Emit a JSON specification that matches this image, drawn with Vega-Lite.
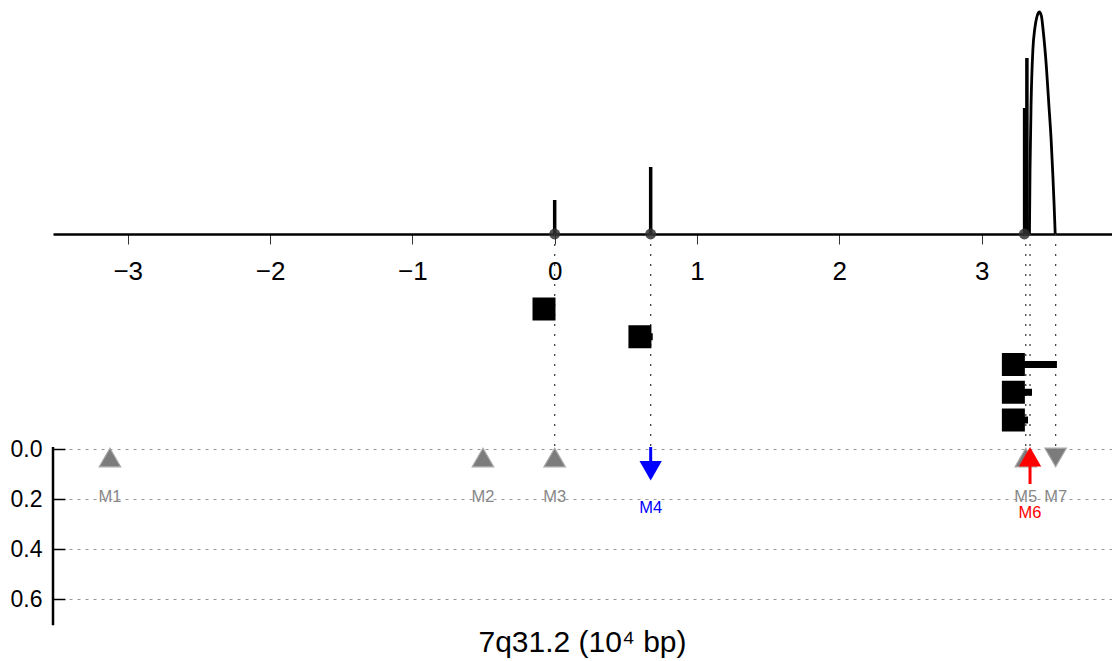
{
  "$schema": "https://vega.github.io/schema/vega-lite/v6.json",
  "width": 1059,
  "height": 625,
  "autosize": {"type": "none"},
  "padding": {"left": 53, "top": 0, "right": 0, "bottom": 36},
  "background": "white",
  "config": {"view": {"stroke": null}, "font": "Liberation Sans"},
  "title": {"text": "7q31.2 (10⁴ bp)", "orient": "bottom", "anchor": "middle", "fontSize": 30, "fontWeight": "normal", "font": "Liberation Sans", "color": "black", "offset": 1},
  "datasets": {
    "markers": [
      {"id": "M1", "pos": -3.125, "group": "neutral", "dir": "up"},
      {"id": "M2", "pos": -0.504, "group": "neutral", "dir": "up"},
      {"id": "M3", "pos": 0.0, "group": "neutral", "dir": "up"},
      {"id": "M4", "pos": 0.6745, "group": "decrease", "dir": "down"},
      {"id": "M5", "pos": 3.31, "group": "neutral", "dir": "up"},
      {"id": "M6", "pos": 3.34, "group": "increase", "dir": "up"},
      {"id": "M7", "pos": 3.52, "group": "neutral", "dir": "down"}
    ],
    "links": [{"pos": 0.0}, {"pos": 0.6745}, {"pos": 3.31}, {"pos": 3.34}, {"pos": 3.52}],
    "lollipops": [
      {"pos": 0.0, "score": 0.34},
      {"pos": 0.6745, "score": 0.67},
      {"pos": 3.302, "score": 1.26},
      {"pos": 3.318, "score": 1.76}
    ],
    "dots": [{"pos": 0.0}, {"pos": 0.6745}, {"pos": 3.30}],
    "arc": [
      {"pos": 3.336, "score": 0},
      {"pos": 3.340, "score": 0.64},
      {"pos": 3.348, "score": 1.34},
      {"pos": 3.360, "score": 1.84},
      {"pos": 3.374, "score": 2.06},
      {"pos": 3.388, "score": 2.17},
      {"pos": 3.405, "score": 2.22},
      {"pos": 3.420, "score": 2.18},
      {"pos": 3.432, "score": 2.04},
      {"pos": 3.455, "score": 1.67},
      {"pos": 3.472, "score": 1.30},
      {"pos": 3.488, "score": 0.95},
      {"pos": 3.500, "score": 0.60},
      {"pos": 3.509, "score": 0.30},
      {"pos": 3.517, "score": 0}
    ],
    "blocks": [
      {"row": 1, "pos": -0.075, "end": 0.0},
      {"row": 2, "pos": 0.599, "end": 0.689},
      {"row": 3, "pos": 3.223, "end": 3.529},
      {"row": 4, "pos": 3.223, "end": 3.354},
      {"row": 5, "pos": 3.223, "end": 3.326}
    ]
  },
  "encoding": {
    "x": {
      "field": "pos", "type": "quantitative",
      "scale": {"domain": [-3.525, 3.916], "nice": false, "zero": false},
      "axis": {"values": [-3, -2, -1, 0, 1, 2, 3], "offset": -391, "title": null, "grid": false,
               "domainColor": "black", "domainWidth": 2.5, "tickColor": "#333", "tickSize": 10, "tickWidth": 1,
               "labelFontSize": 26, "labelColor": "black", "labelPadding": 14, "labelFont": "Liberation Sans", "labelFlush": false}
    }
  },
  "layer": [
    {
      "layer": [
        {
          "data": {"name": "links"},
          "mark": {"type": "rule", "color": "#444", "strokeWidth": 1.3, "strokeDash": [2, 8]},
          "encoding": {
            "y": {"datum": -0.86, "type": "quantitative",
                  "scale": {"domain": [-1.796, 0.704], "reverse": true, "nice": false, "zero": false},
                  "axis": {"values": [0, 0.2, 0.4, 0.6], "format": ".1f", "title": null, "domain": false,
                           "grid": true, "gridDash": [3, 5], "gridColor": "#999", "gridWidth": 1,
                           "ticks": false,
                           "labelFontSize": 23, "labelColor": "black", "labelPadding": 11, "labelFont": "Liberation Sans"}},
            "y2": {"datum": 0}
          }
        },
        {
          "data": {"name": "markers"},
          "transform": [{"filter": "datum.group == 'neutral'"}],
          "mark": {"type": "point", "filled": true, "size": 460, "fill": "#6e6e6e", "opacity": 0.9, "stroke": "#a0a0a0", "strokeWidth": 1.2},
          "encoding": {
            "y": {"datum": 0.034, "type": "quantitative"},
            "shape": {"field": "dir", "type": "nominal", "scale": {"domain": ["up", "down"], "range": ["triangle-up", "triangle-down"]}, "legend": null}
          }
        },
        {
          "data": {"name": "markers"},
          "transform": [{"filter": "datum.id == 'M4'"}],
          "mark": {"type": "rule", "color": "blue", "strokeWidth": 3},
          "encoding": {"y": {"datum": -0.008, "type": "quantitative"}, "y2": {"datum": 0.05}}
        },
        {
          "data": {"name": "markers"},
          "transform": [{"filter": "datum.id == 'M4'"}],
          "mark": {"type": "point", "filled": true, "shape": "triangle-down", "size": 500, "color": "blue", "opacity": 1},
          "encoding": {"y": {"datum": 0.087, "type": "quantitative"}}
        },
        {
          "data": {"name": "markers"},
          "transform": [{"filter": "datum.id == 'M6'"}],
          "mark": {"type": "rule", "color": "red", "strokeWidth": 3},
          "encoding": {"y": {"datum": 0.06, "type": "quantitative"}, "y2": {"datum": 0.14}}
        },
        {
          "data": {"name": "markers"},
          "transform": [{"filter": "datum.id == 'M6'"}],
          "mark": {"type": "point", "filled": true, "shape": "triangle-up", "size": 500, "color": "red", "opacity": 1},
          "encoding": {"y": {"datum": 0.031, "type": "quantitative"}}
        },
        {
          "data": {"name": "markers"},
          "transform": [{"filter": "datum.group == 'neutral'"}],
          "mark": {"type": "text", "fontSize": 16.5, "color": "#888", "baseline": "middle", "align": "center"},
          "encoding": {"y": {"datum": 0.19, "type": "quantitative"}, "text": {"field": "id"}}
        },
        {
          "data": {"name": "markers"},
          "transform": [{"filter": "datum.id == 'M4'"}],
          "mark": {"type": "text", "fontSize": 16.5, "color": "blue", "baseline": "middle", "align": "center"},
          "encoding": {"y": {"datum": 0.236, "type": "quantitative"}, "text": {"field": "id"}}
        },
        {
          "data": {"name": "markers"},
          "transform": [{"filter": "datum.id == 'M6'"}],
          "mark": {"type": "text", "fontSize": 16.5, "color": "red", "baseline": "middle", "align": "center"},
          "encoding": {"y": {"datum": 0.256, "type": "quantitative"}, "text": {"field": "id"}}
        }
      ]
    },
    {
      "data": {"values": [{"pos": -3.525}]},
      "mark": {"type": "rule", "color": "black", "strokeWidth": 2.5},
      "encoding": {
        "y": {"datum": -0.008, "type": "quantitative",
              "scale": {"domain": [-1.796, 0.704], "reverse": true, "nice": false, "zero": false},
              "axis": {"orient": "right", "offset": -1059, "values": [0, 0.2, 0.4, 0.6], "title": null,
                       "labels": false, "domain": false, "grid": false, "ticks": true,
                       "tickSize": 12, "tickWidth": 1.5, "tickColor": "black"}},
        "y2": {"datum": 0.705}
      }
    },
    {
      "layer": [
        {
          "data": {"name": "blocks"},
          "mark": {"type": "rule", "color": "black", "strokeWidth": 7},
          "encoding": {
            "y": {"field": "row", "type": "quantitative", "scale": {"domain": [-10.135, 12.387], "reverse": true, "nice": false, "zero": false}, "axis": null},
            "x2": {"field": "end"}
          }
        },
        {
          "data": {"name": "blocks"},
          "mark": {"type": "point", "shape": "square", "filled": true, "size": 529, "color": "black", "opacity": 1},
          "encoding": {
            "y": {"field": "row", "type": "quantitative", "scale": {"domain": [-10.135, 12.387], "reverse": true, "nice": false, "zero": false}, "axis": null}
          }
        }
      ]
    },
    {
      "layer": [
        {
          "data": {"name": "lollipops"},
          "mark": {"type": "rule", "color": "black", "strokeWidth": 3.5},
          "encoding": {
            "y": {"field": "score", "type": "quantitative", "scale": {"domain": [-3.91, 2.34], "nice": false, "zero": false}, "axis": null},
            "y2": {"datum": 0}
          }
        },
        {
          "data": {"name": "arc"},
          "mark": {"type": "line", "color": "black", "strokeWidth": 2.8, "interpolate": "monotone"},
          "encoding": {
            "y": {"field": "score", "type": "quantitative", "scale": {"domain": [-3.91, 2.34], "nice": false, "zero": false}, "axis": null}
          }
        },
        {
          "data": {"name": "dots"},
          "mark": {"type": "point", "shape": "circle", "filled": true, "size": 120, "color": "#333", "opacity": 0.85},
          "encoding": {
            "y": {"datum": 0, "type": "quantitative", "scale": {"domain": [-3.91, 2.34], "nice": false, "zero": false}, "axis": null}
          }
        },
        {
          "data": {"values": [{}]},
          "mark": {"type": "point", "shape": "M-1,-0.9L1,0L-1,0.9Z", "filled": true, "size": 484, "color": "black", "opacity": 1},
          "encoding": {
            "x": {"datum": 3.838, "type": "quantitative"},
            "y": {"datum": 0, "type": "quantitative", "scale": {"domain": [-3.91, 2.34], "nice": false, "zero": false}, "axis": null}
          }
        }
      ]
    }
  ],
  "resolve": {"scale": {"y": "independent"}}
}
